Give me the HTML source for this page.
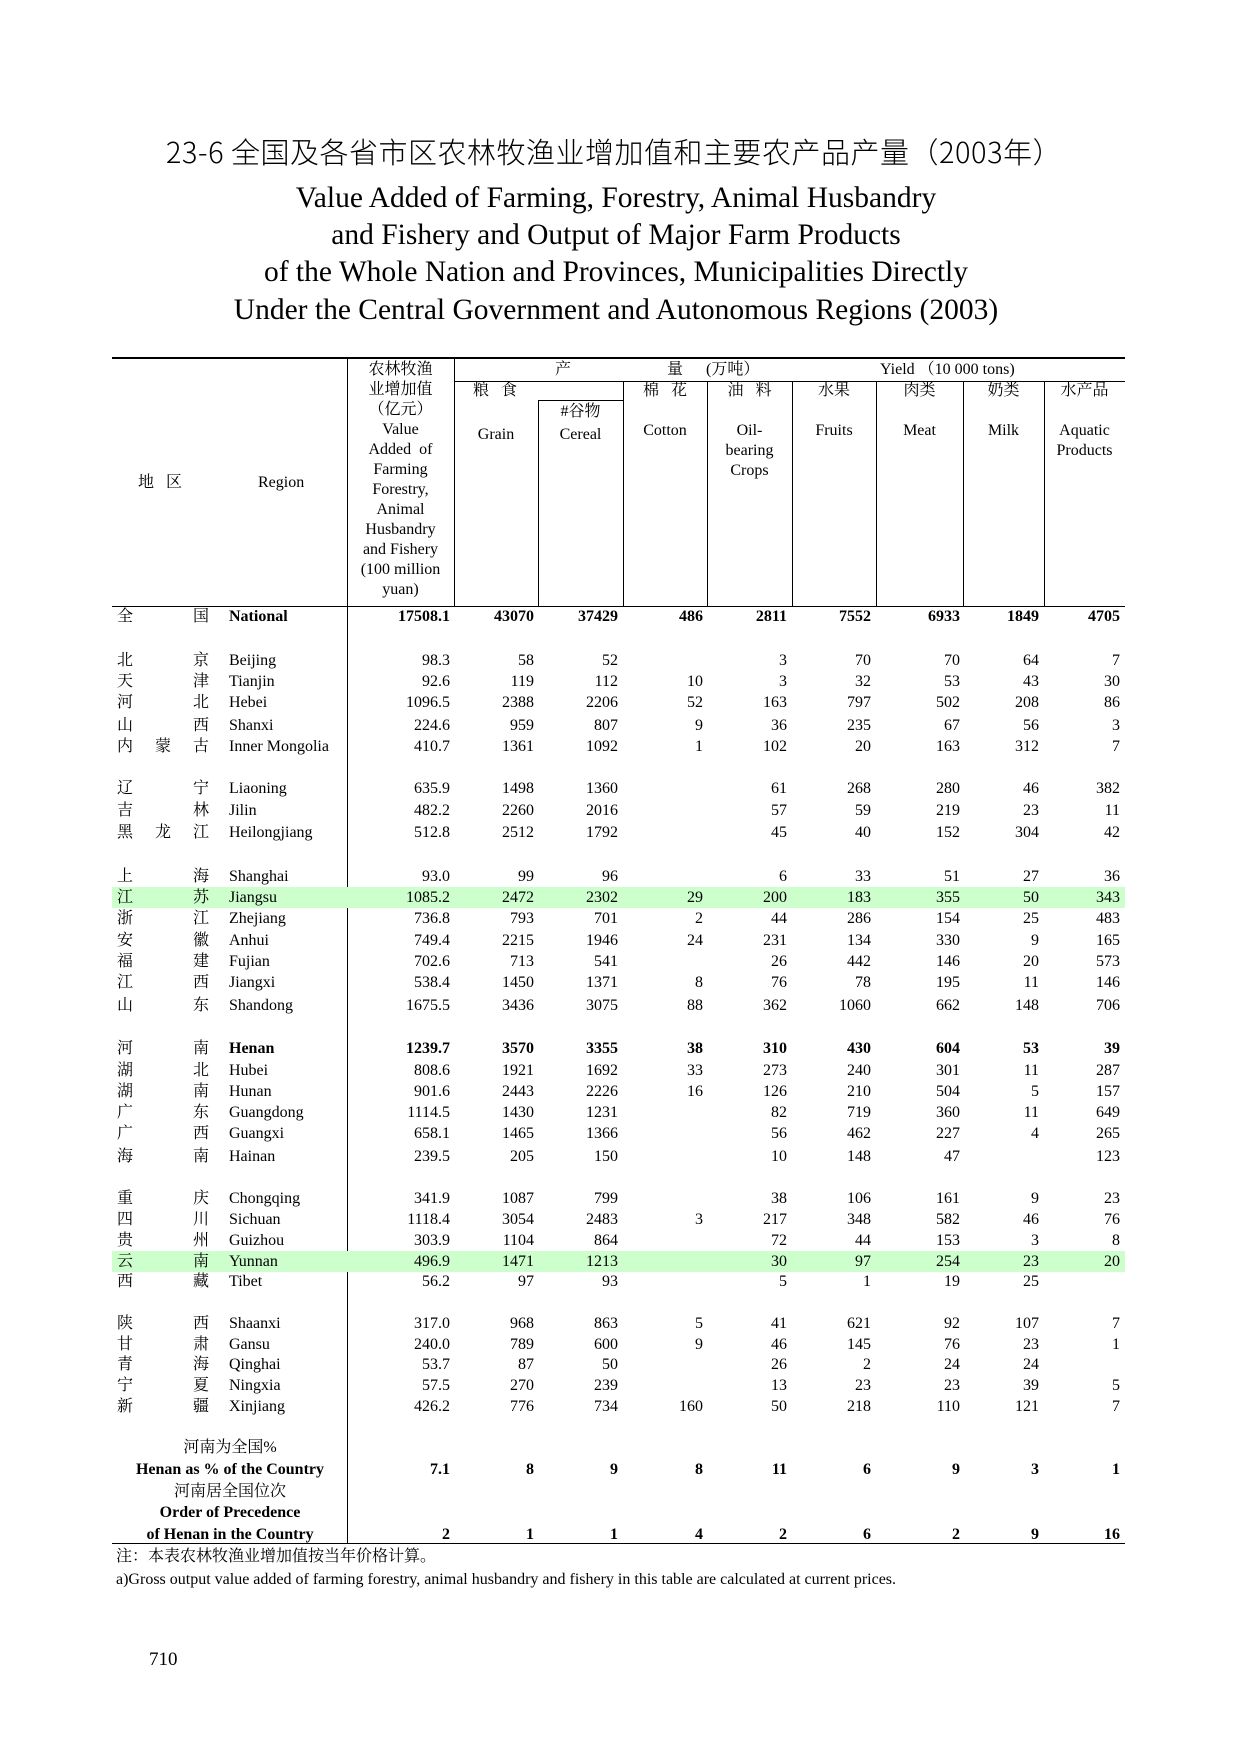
<!DOCTYPE html>
<html><head><meta charset="utf-8">
<style>
body{margin:0;background:#fff;}
#p{position:relative;width:1240px;height:1754px;overflow:hidden;background:#fff;font-family:"Liberation Serif","Noto Serif CJK SC","Noto Sans CJK SC",serif;color:#000;}
.a{position:absolute;white-space:nowrap;}
.r{position:absolute;left:0;width:1240px;height:21px;line-height:21px;font-size:16px;}
.r span{position:absolute;top:0;white-space:nowrap;}
.hl{position:absolute;left:112px;width:1013px;top:0;height:21px;background:#ccffcc;}
.k1{left:117px}.k2{left:155px}.k3{left:193px}.en{left:229px}
.c1{right:790px}.c2{right:706px}.c3{right:622px}.c4{right:537px}.c5{right:453px}.c6{right:369px}.c7{right:280px}.c8{right:201px}.c9{right:120px}
.b{font-weight:bold}
.hl1{position:absolute;background:#000;height:1px}
.vl{position:absolute;background:#000;width:1px}
.h{position:absolute;font-size:16px;line-height:20px;text-align:center;white-space:nowrap;}
.t{position:absolute;left:0;width:1232px;text-align:center;font-size:29.5px;line-height:36px;white-space:nowrap;}
</style></head><body><div id="p">

<div class="a" style="left:0;width:1228px;text-align:center;top:131px;font-size:29px;line-height:40px;letter-spacing:0.5px;font-family:'Noto Sans CJK SC','DejaVu Sans',sans-serif;font-weight:300;">23-6 全国及各省市区农林牧渔业增加值和主要农产品产量（2003年）</div>
<div class="t" style="top:180px;">Value Added of Farming, Forestry, Animal Husbandry</div>
<div class="t" style="top:217px;">and Fishery and Output of Major Farm Products</div>
<div class="t" style="top:254px;">of the Whole Nation and Provinces, Municipalities Directly</div>
<div class="t" style="top:292px;">Under the Central Government and Autonomous Regions (2003)</div>

<!-- lines -->
<div class="hl1" style="left:112px;width:1013px;top:357px;height:2px"></div>
<div class="hl1" style="left:454px;width:671px;top:381px"></div>
<div class="hl1" style="left:538px;width:85px;top:400px"></div>
<div class="hl1" style="left:112px;width:1013px;top:606px"></div>
<div class="hl1" style="left:112px;width:1013px;top:1543px"></div>
<div class="vl" style="left:347px;top:358px;height:1185px"></div>
<div class="vl" style="left:454px;top:358px;height:248px"></div>
<div class="vl" style="left:538px;top:400px;height:206px"></div>
<div class="vl" style="left:623px;top:381px;height:225px"></div>
<div class="vl" style="left:707px;top:381px;height:225px"></div>
<div class="vl" style="left:792px;top:381px;height:225px"></div>
<div class="vl" style="left:876px;top:381px;height:225px"></div>
<div class="vl" style="left:963px;top:381px;height:225px"></div>
<div class="vl" style="left:1044px;top:381px;height:225px"></div>

<!-- header -->
<div class="h" style="left:347px;width:107px;top:360px;">农林牧渔<br>业增加值<br>（亿元）<br>Value<br>Added&nbsp; of<br>Farming<br>Forestry,<br>Animal<br>Husbandry<br>and Fishery<br>(100 million<br>yuan)</div>
<div class="h" style="left:138px;top:473px;">地&nbsp;&nbsp;&nbsp;区</div>
<div class="h" style="left:258px;top:473px;">Region</div>
<div class="h" style="left:555px;top:360px;">产</div>
<div class="h" style="left:667px;top:360px;">量</div>
<div class="h" style="left:706px;top:360px;">(万吨）</div>
<div class="h" style="left:880px;top:360px;">Yield （10 000 tons)</div>
<div class="h" style="left:473px;top:381px;">粮&nbsp;&nbsp;&nbsp;食</div>
<div class="h" style="left:538px;width:85px;top:402px;">#谷物</div>
<div class="h" style="left:454px;width:84px;top:425px;">Grain</div>
<div class="h" style="left:538px;width:85px;top:425px;">Cereal</div>
<div class="h" style="left:623px;width:84px;top:381px;">棉&nbsp;&nbsp;&nbsp;花<br><br>Cotton</div>
<div class="h" style="left:707px;width:85px;top:381px;">油&nbsp;&nbsp;&nbsp;料<br><br>Oil-<br>bearing<br>Crops</div>
<div class="h" style="left:792px;width:84px;top:381px;">水果<br><br>Fruits</div>
<div class="h" style="left:876px;width:87px;top:381px;">肉类<br><br>Meat</div>
<div class="h" style="left:963px;width:81px;top:381px;">奶类<br><br>Milk</div>
<div class="h" style="left:1044px;width:81px;top:381px;">水产品<br><br>Aquatic<br>Products</div>

<!-- data -->
<div class="r b" style="top:606px"><span class="k1" style="font-weight:normal">全</span><span class="k3" style="font-weight:normal">国</span><span class="en">National</span><span class="c1">17508.1</span><span class="c2">43070</span><span class="c3">37429</span><span class="c4">486</span><span class="c5">2811</span><span class="c6">7552</span><span class="c7">6933</span><span class="c8">1849</span><span class="c9">4705</span></div>

<div class="r" style="top:650px"><span class="k1">北</span><span class="k3">京</span><span class="en">Beijing</span><span class="c1">98.3</span><span class="c2">58</span><span class="c3">52</span><span class="c5">3</span><span class="c6">70</span><span class="c7">70</span><span class="c8">64</span><span class="c9">7</span></div>
<div class="r" style="top:671px"><span class="k1">天</span><span class="k3">津</span><span class="en">Tianjin</span><span class="c1">92.6</span><span class="c2">119</span><span class="c3">112</span><span class="c4">10</span><span class="c5">3</span><span class="c6">32</span><span class="c7">53</span><span class="c8">43</span><span class="c9">30</span></div>
<div class="r" style="top:692px"><span class="k1">河</span><span class="k3">北</span><span class="en">Hebei</span><span class="c1">1096.5</span><span class="c2">2388</span><span class="c3">2206</span><span class="c4">52</span><span class="c5">163</span><span class="c6">797</span><span class="c7">502</span><span class="c8">208</span><span class="c9">86</span></div>
<div class="r" style="top:715px"><span class="k1">山</span><span class="k3">西</span><span class="en">Shanxi</span><span class="c1">224.6</span><span class="c2">959</span><span class="c3">807</span><span class="c4">9</span><span class="c5">36</span><span class="c6">235</span><span class="c7">67</span><span class="c8">56</span><span class="c9">3</span></div>
<div class="r" style="top:736px"><span class="k1">内</span><span class="k2">蒙</span><span class="k3">古</span><span class="en">Inner Mongolia</span><span class="c1">410.7</span><span class="c2">1361</span><span class="c3">1092</span><span class="c4">1</span><span class="c5">102</span><span class="c6">20</span><span class="c7">163</span><span class="c8">312</span><span class="c9">7</span></div>

<div class="r" style="top:778px"><span class="k1">辽</span><span class="k3">宁</span><span class="en">Liaoning</span><span class="c1">635.9</span><span class="c2">1498</span><span class="c3">1360</span><span class="c5">61</span><span class="c6">268</span><span class="c7">280</span><span class="c8">46</span><span class="c9">382</span></div>
<div class="r" style="top:800px"><span class="k1">吉</span><span class="k3">林</span><span class="en">Jilin</span><span class="c1">482.2</span><span class="c2">2260</span><span class="c3">2016</span><span class="c5">57</span><span class="c6">59</span><span class="c7">219</span><span class="c8">23</span><span class="c9">11</span></div>
<div class="r" style="top:822px"><span class="k1">黑</span><span class="k2">龙</span><span class="k3">江</span><span class="en">Heilongjiang</span><span class="c1">512.8</span><span class="c2">2512</span><span class="c3">1792</span><span class="c5">45</span><span class="c6">40</span><span class="c7">152</span><span class="c8">304</span><span class="c9">42</span></div>

<div class="r" style="top:866px"><span class="k1">上</span><span class="k3">海</span><span class="en">Shanghai</span><span class="c1">93.0</span><span class="c2">99</span><span class="c3">96</span><span class="c5">6</span><span class="c6">33</span><span class="c7">51</span><span class="c8">27</span><span class="c9">36</span></div>
<div class="r" style="top:887px"><div class="hl"></div><span class="k1">江</span><span class="k3">苏</span><span class="en">Jiangsu</span><span class="c1">1085.2</span><span class="c2">2472</span><span class="c3">2302</span><span class="c4">29</span><span class="c5">200</span><span class="c6">183</span><span class="c7">355</span><span class="c8">50</span><span class="c9">343</span></div>
<div class="r" style="top:908px"><span class="k1">浙</span><span class="k3">江</span><span class="en">Zhejiang</span><span class="c1">736.8</span><span class="c2">793</span><span class="c3">701</span><span class="c4">2</span><span class="c5">44</span><span class="c6">286</span><span class="c7">154</span><span class="c8">25</span><span class="c9">483</span></div>
<div class="r" style="top:930px"><span class="k1">安</span><span class="k3">徽</span><span class="en">Anhui</span><span class="c1">749.4</span><span class="c2">2215</span><span class="c3">1946</span><span class="c4">24</span><span class="c5">231</span><span class="c6">134</span><span class="c7">330</span><span class="c8">9</span><span class="c9">165</span></div>
<div class="r" style="top:951px"><span class="k1">福</span><span class="k3">建</span><span class="en">Fujian</span><span class="c1">702.6</span><span class="c2">713</span><span class="c3">541</span><span class="c5">26</span><span class="c6">442</span><span class="c7">146</span><span class="c8">20</span><span class="c9">573</span></div>
<div class="r" style="top:972px"><span class="k1">江</span><span class="k3">西</span><span class="en">Jiangxi</span><span class="c1">538.4</span><span class="c2">1450</span><span class="c3">1371</span><span class="c4">8</span><span class="c5">76</span><span class="c6">78</span><span class="c7">195</span><span class="c8">11</span><span class="c9">146</span></div>
<div class="r" style="top:995px"><span class="k1">山</span><span class="k3">东</span><span class="en">Shandong</span><span class="c1">1675.5</span><span class="c2">3436</span><span class="c3">3075</span><span class="c4">88</span><span class="c5">362</span><span class="c6">1060</span><span class="c7">662</span><span class="c8">148</span><span class="c9">706</span></div>

<div class="r b" style="top:1038px"><span class="k1" style="font-weight:normal">河</span><span class="k3" style="font-weight:normal">南</span><span class="en">Henan</span><span class="c1">1239.7</span><span class="c2">3570</span><span class="c3">3355</span><span class="c4">38</span><span class="c5">310</span><span class="c6">430</span><span class="c7">604</span><span class="c8">53</span><span class="c9">39</span></div>
<div class="r" style="top:1060px"><span class="k1">湖</span><span class="k3">北</span><span class="en">Hubei</span><span class="c1">808.6</span><span class="c2">1921</span><span class="c3">1692</span><span class="c4">33</span><span class="c5">273</span><span class="c6">240</span><span class="c7">301</span><span class="c8">11</span><span class="c9">287</span></div>
<div class="r" style="top:1081px"><span class="k1">湖</span><span class="k3">南</span><span class="en">Hunan</span><span class="c1">901.6</span><span class="c2">2443</span><span class="c3">2226</span><span class="c4">16</span><span class="c5">126</span><span class="c6">210</span><span class="c7">504</span><span class="c8">5</span><span class="c9">157</span></div>
<div class="r" style="top:1102px"><span class="k1">广</span><span class="k3">东</span><span class="en">Guangdong</span><span class="c1">1114.5</span><span class="c2">1430</span><span class="c3">1231</span><span class="c5">82</span><span class="c6">719</span><span class="c7">360</span><span class="c8">11</span><span class="c9">649</span></div>
<div class="r" style="top:1123px"><span class="k1">广</span><span class="k3">西</span><span class="en">Guangxi</span><span class="c1">658.1</span><span class="c2">1465</span><span class="c3">1366</span><span class="c5">56</span><span class="c6">462</span><span class="c7">227</span><span class="c8">4</span><span class="c9">265</span></div>
<div class="r" style="top:1146px"><span class="k1">海</span><span class="k3">南</span><span class="en">Hainan</span><span class="c1">239.5</span><span class="c2">205</span><span class="c3">150</span><span class="c5">10</span><span class="c6">148</span><span class="c7">47</span><span class="c9">123</span></div>

<div class="r" style="top:1188px"><span class="k1">重</span><span class="k3">庆</span><span class="en">Chongqing</span><span class="c1">341.9</span><span class="c2">1087</span><span class="c3">799</span><span class="c5">38</span><span class="c6">106</span><span class="c7">161</span><span class="c8">9</span><span class="c9">23</span></div>
<div class="r" style="top:1209px"><span class="k1">四</span><span class="k3">川</span><span class="en">Sichuan</span><span class="c1">1118.4</span><span class="c2">3054</span><span class="c3">2483</span><span class="c4">3</span><span class="c5">217</span><span class="c6">348</span><span class="c7">582</span><span class="c8">46</span><span class="c9">76</span></div>
<div class="r" style="top:1230px"><span class="k1">贵</span><span class="k3">州</span><span class="en">Guizhou</span><span class="c1">303.9</span><span class="c2">1104</span><span class="c3">864</span><span class="c5">72</span><span class="c6">44</span><span class="c7">153</span><span class="c8">3</span><span class="c9">8</span></div>
<div class="r" style="top:1251px"><div class="hl"></div><span class="k1">云</span><span class="k3">南</span><span class="en">Yunnan</span><span class="c1">496.9</span><span class="c2">1471</span><span class="c3">1213</span><span class="c5">30</span><span class="c6">97</span><span class="c7">254</span><span class="c8">23</span><span class="c9">20</span></div>
<div class="r" style="top:1271px"><span class="k1">西</span><span class="k3">藏</span><span class="en">Tibet</span><span class="c1">56.2</span><span class="c2">97</span><span class="c3">93</span><span class="c5">5</span><span class="c6">1</span><span class="c7">19</span><span class="c8">25</span></div>

<div class="r" style="top:1313px"><span class="k1">陕</span><span class="k3">西</span><span class="en">Shaanxi</span><span class="c1">317.0</span><span class="c2">968</span><span class="c3">863</span><span class="c4">5</span><span class="c5">41</span><span class="c6">621</span><span class="c7">92</span><span class="c8">107</span><span class="c9">7</span></div>
<div class="r" style="top:1334px"><span class="k1">甘</span><span class="k3">肃</span><span class="en">Gansu</span><span class="c1">240.0</span><span class="c2">789</span><span class="c3">600</span><span class="c4">9</span><span class="c5">46</span><span class="c6">145</span><span class="c7">76</span><span class="c8">23</span><span class="c9">1</span></div>
<div class="r" style="top:1354px"><span class="k1">青</span><span class="k3">海</span><span class="en">Qinghai</span><span class="c1">53.7</span><span class="c2">87</span><span class="c3">50</span><span class="c5">26</span><span class="c6">2</span><span class="c7">24</span><span class="c8">24</span></div>
<div class="r" style="top:1375px"><span class="k1">宁</span><span class="k3">夏</span><span class="en">Ningxia</span><span class="c1">57.5</span><span class="c2">270</span><span class="c3">239</span><span class="c5">13</span><span class="c6">23</span><span class="c7">23</span><span class="c8">39</span><span class="c9">5</span></div>
<div class="r" style="top:1396px"><span class="k1">新</span><span class="k3">疆</span><span class="en">Xinjiang</span><span class="c1">426.2</span><span class="c2">776</span><span class="c3">734</span><span class="c4">160</span><span class="c5">50</span><span class="c6">218</span><span class="c7">110</span><span class="c8">121</span><span class="c9">7</span></div>

<div class="r" style="top:1437px"><span style="left:130px;width:200px;text-align:center">河南为全国%</span></div>
<div class="r b" style="top:1459px"><span style="left:110px;width:240px;text-align:center">Henan as % of the Country</span><span class="c1">7.1</span><span class="c2">8</span><span class="c3">9</span><span class="c4">8</span><span class="c5">11</span><span class="c6">6</span><span class="c7">9</span><span class="c8">3</span><span class="c9">1</span></div>
<div class="r" style="top:1481px"><span style="left:130px;width:200px;text-align:center">河南居全国位次</span></div>
<div class="r b" style="top:1502px"><span style="left:110px;width:240px;text-align:center">Order of Precedence</span></div>
<div class="r b" style="top:1524px"><span style="left:110px;width:240px;text-align:center">of Henan in the Country</span><span class="c1">2</span><span class="c2">1</span><span class="c3">1</span><span class="c4">4</span><span class="c5">2</span><span class="c6">6</span><span class="c7">2</span><span class="c8">9</span><span class="c9">16</span></div>

<div class="a" style="left:116px;top:1547px;font-size:16px;line-height:20px;">注：本表农林牧渔业增加值按当年价格计算。</div>
<div class="a" style="left:116px;top:1570px;font-size:16px;line-height:20px;">a)Gross output value added of farming forestry, animal husbandry and fishery in this table are calculated at current prices.</div>
<div class="a" style="left:149px;top:1649px;font-size:19px;line-height:22px;">710</div>
</div></body></html>
